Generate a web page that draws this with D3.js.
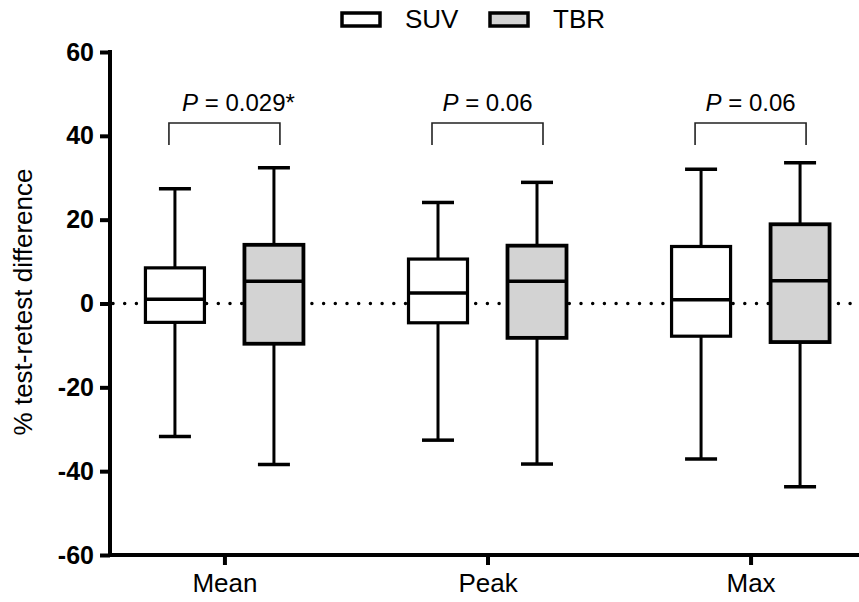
<!DOCTYPE html>
<html>
<head>
<meta charset="utf-8">
<script src="https://cdn.jsdelivr.net/npm/d3@7"></script>
<style>
  body { margin: 0; background: #fff; }
  svg { font-family: Arial, "Liberation Sans", sans-serif; }
</style>
</head>
<body>
<script>
// data
var categories = ["Mean", "Peak", "Max"];
var seriesNames = ["SUV", "TBR"];
// [whiskerLow, q1, median, q3, whiskerHigh]
var suvStats = [
    [-31.7, -4.5, 1.0, 8.5, 27.4],
    [-32.6, -4.6, 2.5, 10.6, 24.1],
    [-37.1, -7.8, 0.9, 13.6, 32.0]
];
var tbrStats = [
    [-38.4, -9.6, 5.3, 14.0, 32.4],
    [-38.3, -8.2, 5.3, 13.8, 28.9],
    [-43.7, -9.2, 5.4, 18.9, 33.6]
];
var pLabels = ["0.029*", "0.06", "0.06"];
var yTicks = [-60, -40, -20, 0, 20, 40, 60];
var fills = {SUV: "#ffffff", TBR: "#d3d3d3"};

var width = 859, height = 602;

var svg = d3.select("body").append("svg")
    .attr("width", width)
    .attr("height", height);

var y = d3.scaleLinear().domain([-60, 60]).range([555, 52]);
var x0 = d3.scalePoint().domain(categories).range([110, 865]).padding(0.435);
var x1 = d3.scalePoint().domain(seriesNames).range([-49.5, 49.5]);
var boxW = 62, capW = 32;

// zero reference line
svg.append("line")
    .attr("x1", 113).attr("x2", width)
    .attr("y1", y(0)).attr("y2", y(0))
    .attr("stroke", "#000")
    .attr("stroke-width", 3.5)
    .attr("stroke-linecap", "round")
    .attr("stroke-dasharray", "0,11.7");

// Y axis
var yAxis = svg.append("g")
    .attr("transform", "translate(110,0)")
    .call(d3.axisLeft(y).tickValues(yTicks).tickSize(10).tickPadding(6)
        .tickFormat(function (d) { return String(d); }));
yAxis.select(".domain").attr("stroke-width", 4).attr("d", "M0," + (y(60) - 2) + "V" + (y(-60) + 2));
yAxis.selectAll(".tick line").attr("stroke-width", 4);
yAxis.selectAll(".tick text")
    .style("font-size", "25px")
    .style("font-weight", "bold")
    .style("font-family", "Arial, 'Liberation Sans', sans-serif")
    .attr("fill", "#000");

// X axis
var xAxis = svg.append("g")
    .attr("transform", "translate(0," + y(-60) + ")")
    .call(d3.axisBottom(x0).tickSize(10).tickPadding(9));
xAxis.select(".domain").attr("stroke-width", 4).attr("d", "M108,0H" + width);
xAxis.selectAll(".tick line").attr("stroke-width", 4);
xAxis.selectAll(".tick text")
    .style("font-size", "26px")
    .style("font-family", "Arial, 'Liberation Sans', sans-serif")
    .attr("fill", "#000");

// y axis title
svg.append("text")
    .attr("transform", "translate(32," + 302 + ") rotate(-90)")
    .style("text-anchor", "middle")
    .style("font-size", "26px")
    .text("% test-retest difference");

// boxes
var boxes = [];
categories.forEach(function (c, i) {
    boxes.push({cat: c, series: "SUV", s: suvStats[i]});
    boxes.push({cat: c, series: "TBR", s: tbrStats[i]});
});

var g = svg.selectAll(".box")
    .data(boxes)
    .enter().append("g")
    .attr("class", "box")
    .attr("transform", function (d) { return "translate(" + (x0(d.cat) + x1(d.series)) + ",0)"; });

// whiskers
g.append("line")
    .attr("x1", 0).attr("x2", 0)
    .attr("y1", function (d) { return y(d.s[0]); })
    .attr("y2", function (d) { return y(d.s[4]); })
    .attr("stroke", "#000").attr("stroke-width", 3);
g.append("line")
    .attr("x1", -capW / 2).attr("x2", capW / 2)
    .attr("y1", function (d) { return y(d.s[0]); })
    .attr("y2", function (d) { return y(d.s[0]); })
    .attr("stroke", "#000").attr("stroke-width", 3.5);
g.append("line")
    .attr("x1", -capW / 2).attr("x2", capW / 2)
    .attr("y1", function (d) { return y(d.s[4]); })
    .attr("y2", function (d) { return y(d.s[4]); })
    .attr("stroke", "#000").attr("stroke-width", 3.5);

g.append("rect")
    .attr("x", -boxW / 2 + 1.5)
    .attr("width", boxW - 3)
    .attr("y", function (d) { return y(d.s[3]); })
    .attr("height", function (d) { return y(d.s[1]) - y(d.s[3]); })
    .attr("fill", function (d) { return fills[d.series]; })
    .attr("stroke", "#000")
    .attr("stroke-width", function (d) { return d.series === "TBR" ? 3.8 : 3.2; });

g.append("line")
    .attr("x1", -boxW / 2 + 1.5).attr("x2", boxW / 2 - 1.5)
    .attr("y1", function (d) { return y(d.s[2]); })
    .attr("y2", function (d) { return y(d.s[2]); })
    .attr("stroke", "#000").attr("stroke-width", 3.5);

// significance brackets
var br = svg.selectAll(".bracket")
    .data(categories)
    .enter().append("g")
    .attr("class", "bracket")
    .attr("transform", function (d) { return "translate(" + x0(d) + ",0)"; });

br.append("path")
    .attr("d", "M-55.5,145V123H55.5V145")
    .attr("fill", "none")
    .attr("stroke", "#222")
    .attr("stroke-width", 1.6);

var pt = br.append("text")
    .attr("x", function (d, i) { return i === 0 ? 14 : 0; })
    .attr("y", 111)
    .style("text-anchor", "middle")
    .style("font-size", "24px");
pt.append("tspan").style("font-style", "italic").text("P");
pt.append("tspan").text(function (d, i) { return " = " + pLabels[i]; });

// legend
var legend = svg.append("g")
    .selectAll("g")
    .data(seriesNames)
    .enter().append("g")
    .attr("transform", function (d, i) { return "translate(" + (342 + i * 148) + ",13)"; });

legend.append("rect")
    .attr("width", 38)
    .attr("height", 13)
    .attr("fill", function (d) { return fills[d]; })
    .attr("stroke", "#000")
    .attr("stroke-width", 3.5);

legend.append("text")
    .attr("x", 63)
    .attr("y", 15)
    .style("font-size", "26px")
    .text(function (d) { return d; });
</script>
</body>
</html>
